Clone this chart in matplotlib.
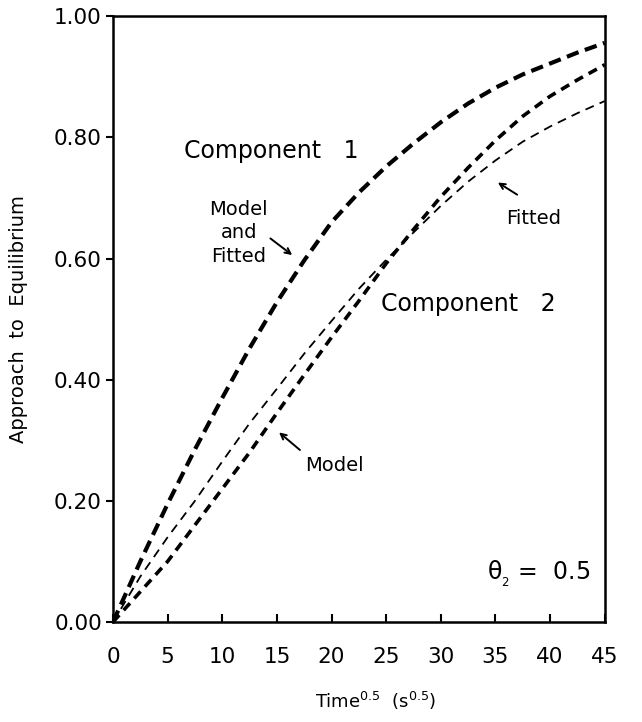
import numpy as np
import matplotlib
matplotlib.use('Agg')
import matplotlib.pyplot as plt

plt.rcParams['font.family'] = 'DejaVu Sans'
plt.rcParams['mathtext.default'] = 'regular'

# sqrt(time) grid and approach-to-equilibrium curves
t = [0, 2.5, 5, 7.5, 10, 12.5, 15, 17.5, 20, 22.5, 25, 27.5, 30, 32.5, 35, 37.5, 40, 42.5, 45]
comp1 = [0, 0.10, 0.195, 0.285, 0.37, 0.452, 0.528, 0.597, 0.66, 0.709, 0.752, 0.79,
         0.825, 0.856, 0.882, 0.904, 0.922, 0.94, 0.956]
comp2_model = [0, 0.05, 0.10, 0.16, 0.22, 0.28, 0.345, 0.408, 0.47, 0.53, 0.592, 0.648,
               0.702, 0.75, 0.795, 0.835, 0.868, 0.895, 0.92]
comp2_fitted = [0, 0.075, 0.14, 0.20, 0.265, 0.328, 0.385, 0.443, 0.497, 0.55, 0.598, 0.643,
                0.687, 0.727, 0.762, 0.793, 0.818, 0.84, 0.86]

xticks = [0, 5, 10, 15, 20, 25, 30, 35, 40, 45]
yticks = [0.0, 0.2, 0.4, 0.6, 0.8, 1.0]

fig = plt.figure(figsize=(6.42, 7.22), dpi=100)
ax = fig.add_axes([0.176, 0.1385, 0.766, 0.839])

ax.plot(t, comp1, color='black', linewidth=3.0, linestyle=(0, (3, 1.6)))
ax.plot(t, comp2_model, color='black', linewidth=2.6, linestyle=(0, (2.6, 1.8)))
ax.plot(t, comp2_fitted, color='black', linewidth=1.3, linestyle=(0, (5, 3.5)))

ax.set_xlim(0, 45)
ax.set_ylim(0, 1.0)
ax.set_xticks(xticks)
ax.set_xticklabels([str(v) for v in xticks])
ax.set_yticks(yticks)
ax.set_yticklabels(['%.2f' % v for v in yticks])
ax.tick_params(axis='x', direction='in', length=6, width=1.5, labelsize=15.5, pad=18)
ax.tick_params(axis='y', direction='out', length=5, width=1.5, labelsize=15.5, pad=3)
for s in ax.spines.values():
    s.set_linewidth(1.8)

ax.set_ylabel('Approach  to  Equilibrium', fontsize=14)
ax.yaxis.set_label_coords(-0.173, 0.5)
ax.set_xlabel('Time$^{0.5}$  (s$^{0.5}$)', fontsize=13)
ax.xaxis.set_label_coords(0.535, -0.112)

# labels and arrows
ax.text(6.5, 0.777, 'Component   1', fontsize=17, va='center', ha='left')
ax.text(24.5, 0.525, 'Component   2', fontsize=17, va='center', ha='left')
ax.text(11.5, 0.643, 'Model\nand\nFitted', fontsize=14, va='center', ha='center',
        linespacing=1.3)
ax.annotate('', xy=(16.6, 0.603), xytext=(14.2, 0.636),
            arrowprops=dict(arrowstyle='->', color='black', lw=1.4))
ax.text(38.5, 0.666, 'Fitted', fontsize=14, va='center', ha='center')
ax.annotate('', xy=(35.0, 0.728), xytext=(37.2, 0.703),
            arrowprops=dict(arrowstyle='->', color='black', lw=1.4))
ax.text(20.3, 0.258, 'Model', fontsize=14, va='center', ha='center')
ax.annotate('', xy=(15.0, 0.316), xytext=(17.3, 0.281),
            arrowprops=dict(arrowstyle='->', color='black', lw=1.4))
ax.text(34.2, 0.079, r'$\theta_{_2}$ =  0.5', fontsize=17, va='center', ha='left')

fig.savefig('out.png', dpi=100)
